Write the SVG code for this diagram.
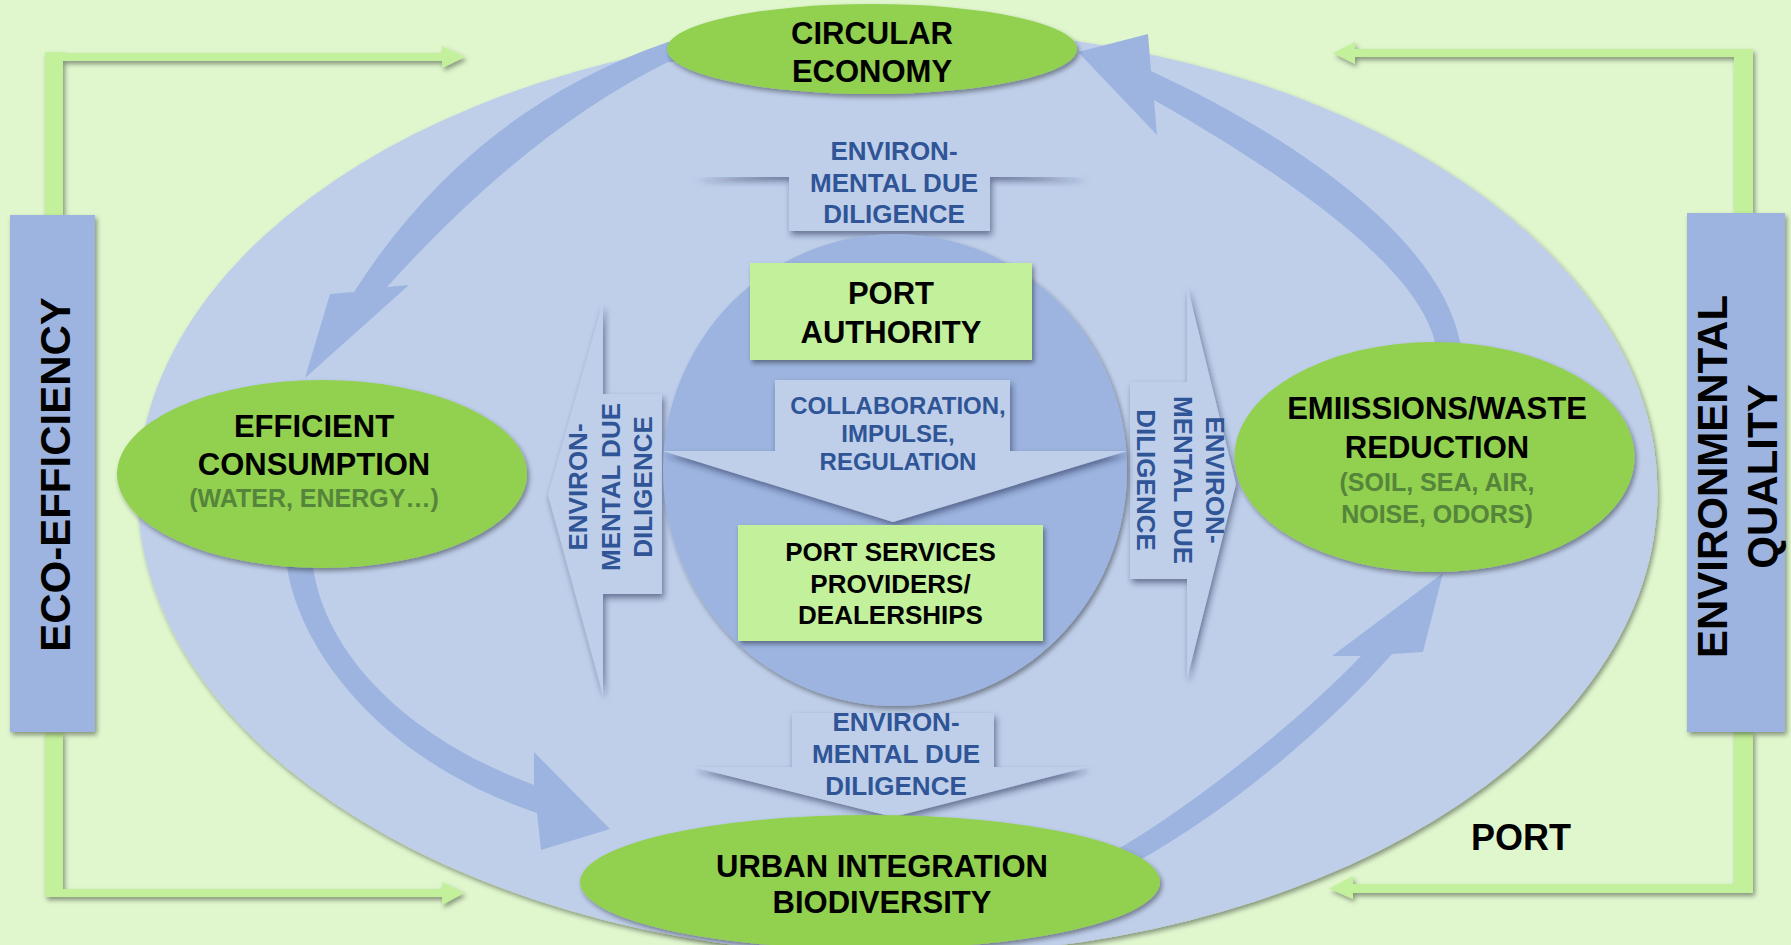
<svg xmlns="http://www.w3.org/2000/svg" width="1791" height="945" viewBox="0 0 1791 945">
<defs>
<filter id="sh" x="-10%" y="-10%" width="130%" height="130%">
<feDropShadow dx="2" dy="3" stdDeviation="2.5" flood-color="#000" flood-opacity="0.4"/>
</filter>
<filter id="shs" x="-10%" y="-10%" width="130%" height="130%">
<feDropShadow dx="2" dy="4" stdDeviation="3" flood-color="#1a2a50" flood-opacity="0.55"/>
</filter>
<style>
.t{font-family:'Liberation Sans',Arial,sans-serif;font-weight:bold;text-anchor:middle}
.main{font-size:31px;fill:#000}
.sub{font-size:25px;fill:#55853A}
.dd{font-size:26px;fill:#2F5597}
.col{font-size:24px;fill:#2F5597}
.bar{font-size:42px;fill:#000}
.gl{fill:#C3F09B}
.band{fill:#9CB4DF}
.ge{fill:#92D050;filter:url(#sh)}
.box{fill:#C3F09B;filter:url(#sh)}
.co{fill:#BFCFEA;filter:url(#shs)}
</style>
</defs>
<rect width="1791" height="945" fill="#E0F7CE"/>
<g id="connectors" filter="url(#sh)">
<path class="gl" d="M45,52 H63 V53 H442 V46 L465,57 L442,68 V61 H63 V215 H45 Z"/>
<path class="gl" d="M45,733 H63 V889 H442 V882 L464,893 L442,905 V897 H45 Z"/>
<path class="gl" d="M1753,49 H1734 V49 H1355 V42 L1333,53 L1355,64 V57 H1734 V213 H1753 Z"/>
<path class="gl" d="M1753,732 H1734 V884 H1353 V876 L1329,888.5 L1353,899 V893 H1753 Z"/>
</g>
<g id="port">
<ellipse cx="897.5" cy="492" rx="760" ry="464" fill="#BFCFEA" filter="url(#sh)"/>
<text class="t" x="1521" y="850" style="font-size:36px">PORT</text>
</g>
<g id="eco-efficiency">
<rect x="10" y="215" width="85" height="517" fill="#9CB4DF" filter="url(#sh)"/>
<text class="t bar" transform="translate(70,474.5) rotate(-90)">ECO-EFFICIENCY</text>
</g>
<g id="environmental-quality">
<rect x="1687" y="213" width="98" height="519" fill="#9CB4DF" filter="url(#sh)"/>
<text class="t bar" transform="translate(1727,476.5) rotate(-90)">ENVIRONMENTAL</text>
<text class="t bar" transform="translate(1777,476.5) rotate(-90)">QUALITY</text>
</g>
<g id="cycle-arrows">
<path class="band" d="M700,38 L668,42 Q470,110 354,292 L330,294 L305,378 L409,285 L387,287 Q528,131 668,62 L700,62 Z"/>
<path class="band" d="M300,540 L287,567 C300,650 380,760 537,813 L541,850 L610,829 L534,752 L534,785 C400,735 325,650 313,567 L318,540 Z"/>
<path class="band" d="M1100,862 L1120,848 C1200,800 1300,720 1361,656 L1332,656 L1443,573 L1423,652 L1392,654 C1330,725 1230,810 1140,860 L1110,878 Z"/>
<path class="band" d="M1437,365 L1435,342 C1420,280 1330,200 1154,100 L1157,135 L1078,52 L1148,34 L1151,71 C1300,140 1440,240 1460,342 L1462,365 Z"/>
</g>
<g id="dd-top">
<path class="co" d="M789,231 L990,231 L990,177 L1086,177 L990,168 L789,168 L693,177 L789,177 Z"/>
<path d="M789,170 L693,177 L893,112 L1086,177 L990,170 Z" fill="#BFCFEA"/>
<text class="t dd" x="894" y="160">ENVIRON-</text>
<text class="t dd" x="894" y="192">MENTAL DUE</text>
<text class="t dd" x="894" y="223">DILIGENCE</text>
</g>
<g id="dd-bottom">
<path class="co" d="M792,713 L994,713 L994,767 L1088,767 L893,817 L693,767 L792,767 Z"/>
<text class="t dd" x="896" y="731">ENVIRON-</text>
<text class="t dd" x="896" y="763">MENTAL DUE</text>
<text class="t dd" x="896" y="795">DILIGENCE</text>
</g>
<g id="dd-left">
<path class="co" d="M662,394 L662,594 L603,594 L603,695 L548,495 L603,302 L603,394 Z"/>
<text class="t dd" transform="translate(587,487) rotate(-90)">ENVIRON-</text>
<text class="t dd" transform="translate(620,487) rotate(-90)">MENTAL DUE</text>
<text class="t dd" transform="translate(652,487) rotate(-90)">DILIGENCE</text>
</g>
<g id="dd-right">
<path class="co" d="M1130,382 L1187,382 L1187,285 L1236,484 L1187,679 L1187,579 L1130,579 Z"/>
<text class="t dd" transform="translate(1206,480) rotate(90)">ENVIRON-</text>
<text class="t dd" transform="translate(1174,480) rotate(90)">MENTAL DUE</text>
<text class="t dd" transform="translate(1137,480) rotate(90)">DILIGENCE</text>
</g>
<g id="port-core">
<ellipse cx="895" cy="470" rx="232" ry="236" fill="#9CB4DF" filter="url(#sh)"/>
</g>
<g id="port-authority">
<rect class="box" x="750" y="263" width="282" height="97"/>
<text class="t main" x="891" y="304">PORT</text>
<text class="t main" x="891" y="343">AUTHORITY</text>
</g>
<g id="collaboration">
<path class="co" d="M775,380 L1010,380 L1010,451 L1127,451 L893,522 L663,451 L775,451 Z"/>
<text class="t col" x="898" y="414">COLLABORATION,</text>
<text class="t col" x="898" y="442">IMPULSE,</text>
<text class="t col" x="898" y="470">REGULATION</text>
</g>
<g id="port-services">
<rect class="box" x="738" y="525" width="305" height="116"/>
<text class="t" x="890.5" y="561" style="font-size:26px">PORT SERVICES</text>
<text class="t" x="890.5" y="593" style="font-size:26px">PROVIDERS/</text>
<text class="t" x="890.5" y="624" style="font-size:26px">DEALERSHIPS</text>
</g>
<g id="circular-economy">
<ellipse class="ge" cx="872" cy="49" rx="205" ry="45"/>
<text class="t main" x="872" y="44">CIRCULAR</text>
<text class="t main" x="872" y="82">ECONOMY</text>
</g>
<g id="efficient-consumption">
<ellipse class="ge" cx="322" cy="474" rx="205" ry="94"/>
<text class="t main" x="314" y="437">EFFICIENT</text>
<text class="t main" x="314" y="475">CONSUMPTION</text>
<text class="t sub" x="314" y="507">(WATER, ENERGY…)</text>
</g>
<g id="emissions-reduction">
<ellipse class="ge" cx="1434.5" cy="457" rx="200" ry="115"/>
<text class="t main" x="1437" y="419">EMIISSIONS/WASTE</text>
<text class="t main" x="1437" y="458">REDUCTION</text>
<text class="t sub" x="1437" y="491">(SOIL, SEA, AIR,</text>
<text class="t sub" x="1437" y="523">NOISE, ODORS)</text>
</g>
<g id="urban-integration">
<ellipse class="ge" cx="870" cy="882" rx="290" ry="67"/>
<text class="t main" x="882" y="877">URBAN INTEGRATION</text>
<text class="t main" x="882" y="913">BIODIVERSITY</text>
</g>
</svg>
